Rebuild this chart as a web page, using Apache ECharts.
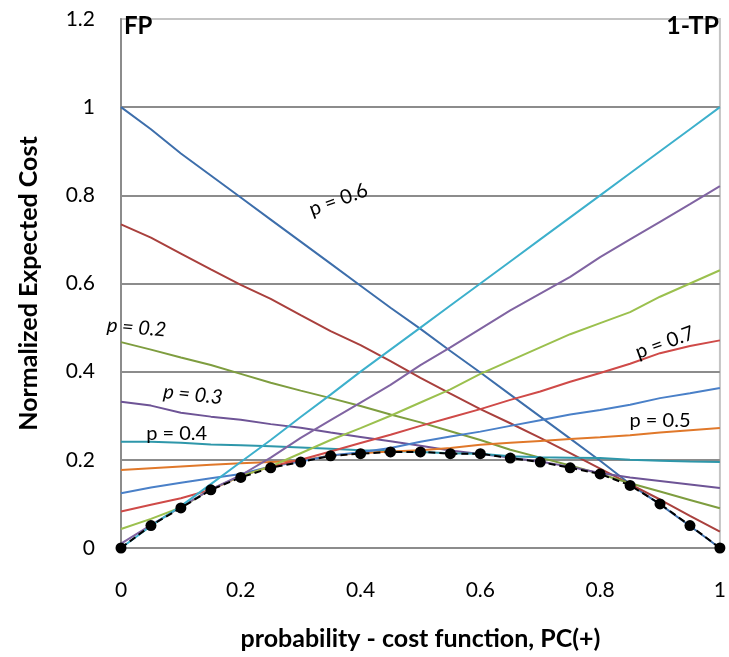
<!DOCTYPE html>
<html>
<head>
<meta charset="utf-8">
<script src="https://cdn.jsdelivr.net/npm/echarts@6/dist/echarts.min.js"></script>
<style>html,body{margin:0;padding:0;background:#fff}#c{width:729px;height:657px}</style>
</head>
<body>
<div id="c"></div>
<script>
// x positions (probability-cost function PC(+))
var xs = [0,0.05,0.1,0.15,0.2,0.25,0.3,0.35,0.4,0.45,0.5,0.55,0.6,0.65,0.7,0.75,0.8,0.85,0.9,0.95,1];
var xTicks = [0,0.2,0.4,0.6,0.8,1];
var yTicks = [0,0.2,0.4,0.6,0.8,1,1.2];

// cost lines
var line1  = [1.0,0.95,0.895,0.845,0.795,0.745,0.695,0.645,0.595,0.545,0.497,0.447,0.398,0.348,0.298,0.248,0.198,0.145,0.099,0.05,0];
var line2  = [0.734,0.704,0.668,0.632,0.597,0.565,0.528,0.492,0.46,0.424,0.386,0.35,0.315,0.283,0.25,0.215,0.18,0.145,0.11,0.073,0.037];
var line3  = [0.467,0.45,0.432,0.415,0.395,0.375,0.357,0.34,0.322,0.303,0.285,0.265,0.245,0.223,0.205,0.187,0.168,0.147,0.128,0.109,0.09];
var line4  = [0.332,0.323,0.307,0.298,0.291,0.281,0.273,0.262,0.252,0.242,0.232,0.221,0.213,0.205,0.196,0.184,0.17,0.16,0.152,0.144,0.136];
var line5  = [0.241,0.241,0.239,0.235,0.233,0.231,0.228,0.225,0.222,0.22,0.218,0.215,0.214,0.208,0.206,0.205,0.204,0.2,0.198,0.196,0.195];
var line6  = [0.177,0.181,0.185,0.189,0.192,0.195,0.198,0.21,0.215,0.219,0.222,0.227,0.234,0.239,0.243,0.247,0.251,0.256,0.262,0.267,0.272];
var line7  = [0.124,0.137,0.148,0.158,0.168,0.185,0.196,0.21,0.217,0.227,0.241,0.253,0.264,0.277,0.29,0.303,0.313,0.325,0.34,0.351,0.363];
var line8  = [0.083,0.098,0.113,0.132,0.163,0.185,0.2,0.219,0.238,0.257,0.277,0.296,0.315,0.336,0.355,0.377,0.397,0.418,0.442,0.458,0.471];
var line9  = [0.043,0.066,0.092,0.133,0.163,0.185,0.215,0.245,0.272,0.3,0.33,0.36,0.395,0.425,0.455,0.485,0.51,0.535,0.57,0.6,0.63];
var line10 = [0.01,0.052,0.093,0.133,0.165,0.205,0.25,0.29,0.33,0.37,0.415,0.455,0.497,0.539,0.577,0.615,0.66,0.7,0.74,0.78,0.821];
var line11 = [0,0.05,0.095,0.145,0.195,0.245,0.297,0.348,0.4,0.45,0.5,0.55,0.6,0.65,0.7,0.75,0.8,0.85,0.9,0.95,1.0];
// lower envelope
var envelope = [0,0.051,0.091,0.132,0.16,0.182,0.195,0.209,0.214,0.218,0.218,0.214,0.214,0.204,0.195,0.182,0.168,0.142,0.1,0.051,0];

var lineColors = ['#3D6EAB','#A9403D','#7E9D3F','#6E5496','#2E97AA','#E0782A','#4A80C8','#CF4A48','#9BC04E','#8064A2','#3DB0CC'];
var lines = [line1,line2,line3,line4,line5,line6,line7,line8,line9,line10,line11];

// annotation labels [text, x, y, rotation(deg), italic]
var pLabels = [
  ['p = 0.6', 0.363, 0.79, 20, false],
  ['p = 0.2', 0.026, 0.50, -5, true],
  ['p = 0.3', 0.12, 0.348, -6, true],
  ['p = 0.4', 0.093, 0.259, 0, false],
  ['p = 0.7', 0.908, 0.466, 20, false],
  ['p = 0.5', 0.9, 0.289, 0, false]
];

function pairs(v){ return xs.map(function(x,i){ return [x, v[i]]; }); }

var FONT = 'Lato';
var series = lines.map(function(v,i){
  return {type:'line', data:pairs(v), showSymbol:false, symbol:'none', silent:true,
          lineStyle:{color:lineColors[i], width:2}, z:2};
});
series.push({type:'line', data:pairs(envelope), symbol:'circle', symbolSize:11,
  itemStyle:{color:'#000'}, lineStyle:{color:'#000', width:2, type:[7,4]}, z:5});

var chart = echarts.init(document.getElementById('c'), null, {renderer:'canvas'});
chart.setOption({
  animation:false,
  grid:{left:121, right:9, top:19, bottom:109, show:true, borderColor:'#c4c4c4', borderWidth:2},
  xAxis:{type:'value', min:0, max:1, interval:0.2,
    name:'probability - cost function, PC(+)', nameLocation:'middle', nameGap:78,
    nameTextStyle:{fontFamily:FONT, fontWeight:'bold', fontSize:25, color:'#000'},
    axisLine:{show:true, lineStyle:{color:'#8c8c8c', width:2}},
    axisTick:{show:false}, splitLine:{show:false},
    axisLabel:{fontFamily:FONT, fontSize:21, color:'#000', margin:32}},
  yAxis:{type:'value', min:0, max:1.2, interval:0.2,
    name:'Normalized Expected Cost', nameLocation:'middle', nameGap:80,
    nameTextStyle:{fontFamily:FONT, fontWeight:'bold', fontSize:25, color:'#000'},
    axisLine:{show:true, lineStyle:{color:'#8c8c8c', width:2}},
    axisTick:{show:false},
    splitLine:{show:true, showMaxLine:false, lineStyle:{color:'#8c8c8c', width:2}},
    axisLabel:{fontFamily:FONT, fontSize:21, color:'#000', margin:26}},
  series:series
});

var g = pLabels.map(function(l){
  var p = chart.convertToPixel({gridIndex:0}, [l[1], l[2]]);
  return {type:'text', x:p[0], y:p[1], rotation:l[3]*Math.PI/180, z:10,
    style:{text:l[0], fontFamily:FONT, fontSize:20, fontStyle:l[4]?'italic':'normal', fill:'#000', align:'center', verticalAlign:'middle'}};
});
var pFP = chart.convertToPixel({gridIndex:0}, [0, 1.2]);
var pTP = chart.convertToPixel({gridIndex:0}, [1, 1.2]);
g.push({type:'text', x:pFP[0]+3, y:pFP[1]+7, z:10, style:{text:'FP', fontFamily:FONT, fontWeight:'bold', fontSize:24, fill:'#000', align:'left', verticalAlign:'middle'}});
g.push({type:'text', x:pTP[0]-1, y:pTP[1]+7, z:10, style:{text:'1-TP', fontFamily:FONT, fontWeight:'bold', fontSize:25, fill:'#000', align:'right', verticalAlign:'middle'}});
chart.setOption({graphic:g});
</script>
</body>
</html>
